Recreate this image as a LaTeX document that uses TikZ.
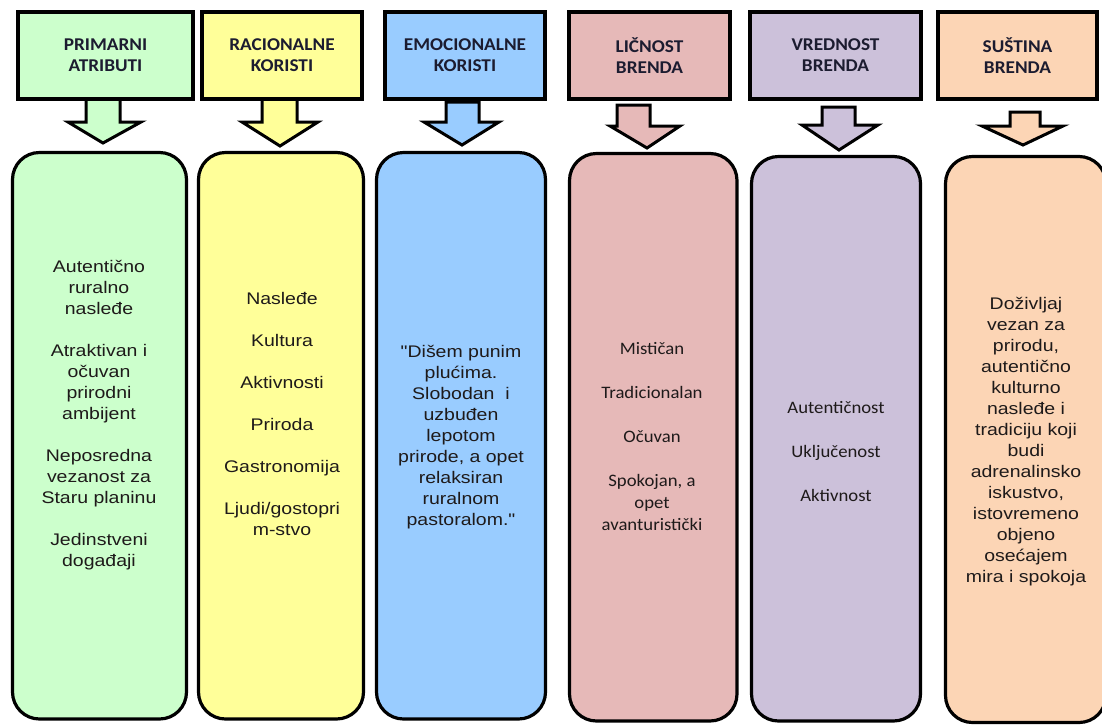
\documentclass[tikz,border=0pt]{standalone}
\usepackage{fontspec}
\setmainfont{Liberation Sans}
\newfontfamily\arialS{Liberation Sans}[FakeStretch=1.16]
\newfontfamily\calS{Carlito}[FakeStretch=1.07]
\definecolor{cGreen}{HTML}{CCFFCC}
\definecolor{cYellow}{HTML}{FFFF99}
\definecolor{cBlue}{HTML}{99CCFF}
\definecolor{cPink}{HTML}{E6B9B8}
\definecolor{cLav}{HTML}{CCC1DA}
\definecolor{cPeach}{HTML}{FCD5B5}
\definecolor{txtDark}{HTML}{1E1A1A}
\definecolor{hdrDark}{HTML}{1C1C30}
\newcommand{\barrow}[9]{%
  \filldraw[arrowline, fill=#1] (#2,#4) -- (#3,#4) -- (#3,#5) -- (#7,#5) -- (#8,#9) -- (#6,#5) -- (#2,#5) -- cycle;}
\begin{document}
\begin{tikzpicture}[x=1pt,y=-1pt,
  hdr/.style={draw=black, line width=3.8pt, inner sep=0pt, align=center,
    text=hdrDark, font=\calS\bfseries\fontsize{18}{21}\selectfont},
  colbox/.style={draw=black, line width=3.2pt, rounded corners=27pt},
  arrowline/.style={draw=black, line width=3pt, line join=miter},
  bodyA/.style={align=center, text=txtDark, inner sep=0pt, font=\arialS\fontsize{16.8}{21}\selectfont},
  bodyC/.style={align=center, text=txtDark, inner sep=0pt, font=\calS\fontsize{17.5}{22}\selectfont}]
\useasboundingbox (0,0) rectangle (1102,724);
\clip (0,0) rectangle (1102,724);

% arrows
\barrow{cGreen}{86}{120}{99}{122}{68}{141}{103}{143}
\barrow{cYellow}{262}{297}{99}{122}{242}{318}{280}{146}
\barrow{cBlue}{446}{479}{102}{122}{424}{499}{462}{145}
\barrow{cPink}{617}{650}{105}{126}{610}{680}{647}{148}
\barrow{cLav}{822}{855}{107}{125}{802}{878}{839}{150}
\barrow{cPeach}{1010}{1040}{112}{126}{982}{1063}{1023}{145}

% headers
\node[hdr, fill=cGreen, minimum width=175pt, minimum height=87pt] (h1) at (105.5,55.5) {PRIMARNI\\ATRIBUTI};
\node[hdr, fill=cYellow, minimum width=160pt, minimum height=87pt] (h2) at (282,55.5) {RACIONALNE\\KORISTI};
\node[hdr, fill=cBlue, minimum width=160pt, minimum height=87pt] (h3) at (465,55.5) {EMOCIONALNE\\KORISTI};
\node[hdr, fill=cPink, minimum width=161pt, minimum height=87pt] (h4) at (649.5,55.5) {LIČNOST\\BRENDA};
\node[hdr, fill=cLav, minimum width=171pt, minimum height=87pt] (h5) at (835.5,55.5) {VREDNOST\\BRENDA};
\node[hdr, fill=cPeach, minimum width=159pt, minimum height=87pt] (h6) at (1017.5,55.5) {SUŠTINA\\BRENDA};

% column boxes
\filldraw[colbox, fill=cGreen] (12.5,152.5) rectangle (186.5,719);
\filldraw[colbox, fill=cYellow] (198.5,152.5) rectangle (363.5,719);
\filldraw[colbox, fill=cBlue] (376.5,152.5) rectangle (545.5,719);
\filldraw[colbox, fill=cPink] (569.5,153.5) rectangle (737,721);
\filldraw[colbox, fill=cLav] (751.5,156.5) rectangle (920.5,721);
\filldraw[colbox, fill=cPeach] (945.5,156.5) rectangle (1106,722.5);

% texts
\node[bodyA] (t1) at (99,415) {Autentično\\ruralno\\nasleđe\\[21pt]Atraktivan i\\očuvan\\prirodni\\ambijent\\[21pt]Neposredna\\vezanost za\\Staru planinu\\[21pt]Jedinstveni\\događaji};
\node[bodyA] (t2) at (282,414) {Nasleđe\\[21pt]Kultura\\[21pt]Aktivnosti\\[21pt]Priroda\\[21pt]Gastronomija\\[21pt]Ljudi/gostopri\\m-stvo};
\node[bodyA] (t3) at (461,437) {"Dišem punim\\plućima.\\Slobodan\ \ i\\uzbuđen\\lepotom\\prirode, a opet\\relaksiran\\ruralnom\\pastoralom."};
\node[bodyC] (t4) at (652,437) {Mističan\\[22pt]Tradicionalan\\[22pt]Očuvan\\[22pt]Spokojan, a\\opet\\avanturistički};
\node[bodyC] (t5) at (836,452) {Autentičnost\\[22pt]Uključenost\\[22pt]Aktivnost};
\node[bodyA] (t6) at (1026,442) {Doživljaj\\vezan za\\prirodu,\\autentično\\kulturno\\nasleđe i\\tradiciju koji\\budi\\adrenalinsko\\iskustvo,\\istovremeno\\objeno\\osećajem\\mira i spokoja};
\end{tikzpicture}
\end{document}
